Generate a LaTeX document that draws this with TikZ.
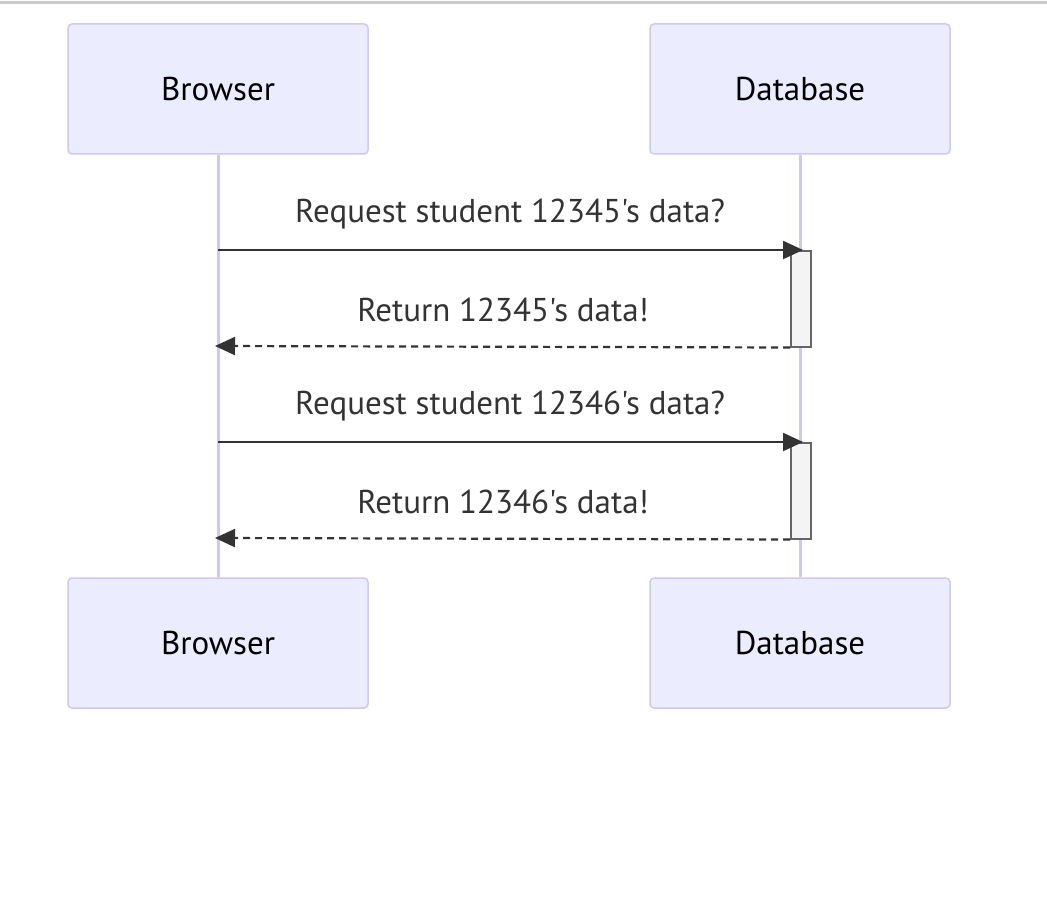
\documentclass[tikz,border=0pt]{standalone}
\usepackage{fontspec}
\setmainfont{PT Sans}[Ligatures=TeXOff]
\usetikzlibrary{arrows.meta}
\definecolor{actfill}{HTML}{ECECFF}
\definecolor{actdraw}{HTML}{D0C8F0}
\definecolor{msgtext}{HTML}{333333}
\definecolor{actvfill}{HTML}{F4F4F4}
\definecolor{actvdraw}{HTML}{666666}
\tikzset{
  actor/.style={draw=actdraw, fill=actfill, line width=1.5pt, rounded corners=4pt,
    minimum width=300pt, minimum height=130pt, font=\fontsize{33}{38}\selectfont, text=black, inner sep=0pt},
  lifeline/.style={draw=actdraw, line width=3pt},
  msg/.style={draw=msgtext, line width=2.2pt, -{Triangle[length=20pt,width=18pt]}},
  reply/.style={msg, dash pattern=on 7pt off 5pt},
  msglabel/.style={font=\fontsize{33}{38}\selectfont, text=msgtext, inner sep=0pt},
  activation/.style={draw=actvdraw, fill=actvfill, line width=1.5pt},
}
\begin{document}
\begin{tikzpicture}[x=1pt,y=-1pt]
\useasboundingbox (0,0) rectangle (1047,923);
\draw[draw=black!20, line width=3pt] (0,3) -- (1047,3);
\node[actor] (b1) at (218,89) {Browser};
\node[actor] (d1) at (800,89) {Database};
\node[actor] (b2) at (218,643) {Browser};
\node[actor] (d2) at (800,643) {Database};
\draw[lifeline] (b1.south) -- (b2.north);
\draw[lifeline] (d1.south) -- (d2.north);
% activations
\node[activation, minimum width=20pt, minimum height=96pt, inner sep=0pt, anchor=north west] (a1) at (790,250) {};
\node[activation, minimum width=20pt, minimum height=96pt, inner sep=0pt, anchor=north west] (a2) at (790,442) {};
% coordinates
\coordinate (s1) at (218,250);
\coordinate (r1) at (215,346);
\coordinate (s2) at (218,442);
\coordinate (r2) at (215,538);
\coordinate (e1) at (803,250);
\coordinate (e2) at (803,442);
\draw[msg] (s1) -- (e1);
\draw[reply] (a1.south west) -- (r1);
\draw[msg] (s2) -- (e2);
\draw[reply] (a2.south west) -- (r2);
\node[msglabel] (l1) at (510,214) {Request student 12345's data?};
\node[msglabel] (l2) at (503,310) {Return 12345's data!};
\node[msglabel] (l3) at (510,406) {Request student 12346's data?};
\node[msglabel] (l4) at (503,502) {Return 12346's data!};
\end{tikzpicture}
\end{document}
